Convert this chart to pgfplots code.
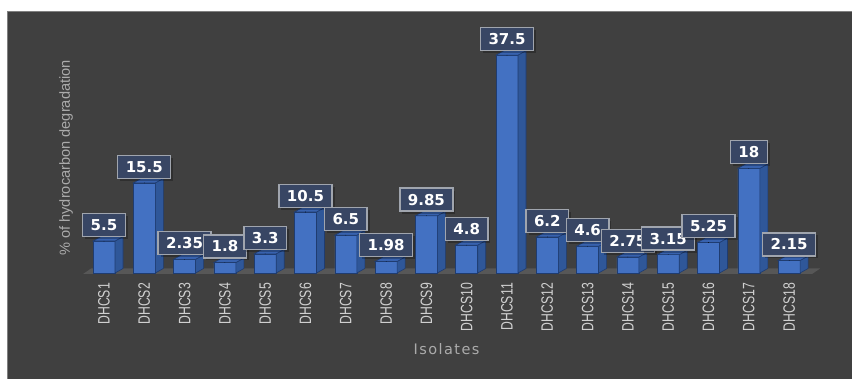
\documentclass[border=0pt]{standalone}
\usepackage{fontspec}
\usepackage{graphicx}
\usepackage{pgfplots}
\usepackage{pgfplotstable}
\pgfplotsset{compat=1.18}
\usetikzlibrary{shadows}
\setmainfont{Liberation Sans}
\newfontfamily\lblfont{DejaVu Sans}
\newfontfamily\tickfont{Liberation Sans}
\newfontfamily\isofont[LetterSpace=10]{DejaVu Sans}
\newcommand\tlab[1]{\rotatebox{90}{\scalebox{0.74}[1]{\tickfont\fontsize{16.5}{18}\selectfont\color{tickgray}#1}}}
\definecolor{bg}{HTML}{404040}
\definecolor{bordergray}{HTML}{808080}
\definecolor{floorcol}{HTML}{575757}
\definecolor{frontcol}{HTML}{4371C2}
\definecolor{sidecol}{HTML}{2F5799}
\definecolor{topcol}{HTML}{3862AE}
\definecolor{edgecol}{HTML}{1F3C70}
\definecolor{lblbg}{HTML}{384664}
\definecolor{lblborder}{HTML}{A0A5AE}
\definecolor{tickgray}{HTML}{D0D0D0}
\definecolor{labgray}{HTML}{ABABAB}
\pgfplotstableread{
x y
1 5.5
2 15.5
3 2.35
4 1.8
5 3.3
6 10.5
7 6.5
8 1.98
9 9.85
10 4.8
11 37.5
12 6.2
13 4.6
14 2.75
15 3.15
16 5.25
17 18
18 2.15
}\datatable
\begin{document}
\begin{tikzpicture}
\fill[white] (0,0) rectangle (852pt,378pt);
\fill[bg] (7pt,-2pt) rectangle (854pt,367pt);
\draw[bordergray, line width=0.8pt] (7.4pt,-2pt) -- (7.4pt,366.6pt) -- (854pt,366.6pt);
\begin{axis}[
  at={(63.7pt,105pt)}, anchor=south west,
  x=40.3pt, y=5.81pt,
  xmin=0, xmax=19, ymin=0, ymax=45,
  clip=false,
  axis line style={draw=none},
  tick style={draw=none},
  ytick=\empty,
  xtick={1,...,18},
  xticklabels={\tlab{DHCS1},\tlab{DHCS2},\tlab{DHCS3},\tlab{DHCS4},\tlab{DHCS5},\tlab{DHCS6},\tlab{DHCS7},\tlab{DHCS8},\tlab{DHCS9},\tlab{DHCS10},\tlab{DHCS11},\tlab{DHCS12},\tlab{DHCS13},\tlab{DHCS14},\tlab{DHCS15},\tlab{DHCS16},\tlab{DHCS17},\tlab{DHCS18}},
  x tick label style={anchor=north, text=tickgray, inner sep=0pt, yshift=-10pt},
  ylabel={\% of hydrocarbon degradation},
  xlabel={Isolates},
  every axis y label/.style={at={(rel axis cs:0.003,0.44)}, rotate=90, anchor=center, font=\fontsize{14.6}{16}\selectfont, text=labgray},
  every axis x label/.style={at={(rel axis cs:0.5,-0.29)}, anchor=center, font=\isofont\fontsize{14.5}{16}\selectfont, text=labgray},
]
\fill[floorcol] (axis cs:0.48,-0.17) -- (axis cs:18.57,-0.17) -- (axis cs:18.77,0.78) -- (axis cs:0.68,0.78) -- cycle;
\addplot[scatter, only marks, mark=*, mark size=0.01pt, mark options={draw=none,fill=none},
  visualization depends on={rawy \as \rawy},
  scatter/@pre marker code/.code={%
    \pgfmathsetlengthmacro\h{\rawy*5.81pt}%
    \fill[sidecol, draw=edgecol, line width=0.6pt] (11pt,0pt) -- (19pt,4.5pt) -- (19pt,-\h+4.5pt) -- (11pt,-\h) -- cycle;
    \fill[topcol, draw=edgecol, line width=0.6pt] (-11pt,0pt) -- (11pt,0pt) -- (19pt,4.5pt) -- (-3pt,4.5pt) -- cycle;
  },
  scatter/@post marker code/.code={}]
  table[x=x,y=y]{\datatable};
\addplot[ybar, bar width=22pt, bar shift=0pt, fill=frontcol, draw=edgecol, line width=0.6pt,
  nodes near coords={\lblfont\bfseries\fontsize{15}{15}\selectfont\pgfmathprintnumber[assume math mode=true]{\pgfplotspointmeta}},
  every node near coord/.style={anchor=south, yshift=4pt, fill=lblbg, draw=lblborder, line width=1.3pt, text=white, inner xsep=8pt, inner ysep=6pt, text height=11pt, text depth=0pt, drop shadow={shadow xshift=2.5pt, shadow yshift=-2.5pt, opacity=0.25, fill=black, draw=none}}]
  table[x=x,y=y]{\datatable};
\end{axis}
\pgfresetboundingbox
\useasboundingbox (0,0) rectangle (852pt,378pt);
\end{tikzpicture}
\end{document}
